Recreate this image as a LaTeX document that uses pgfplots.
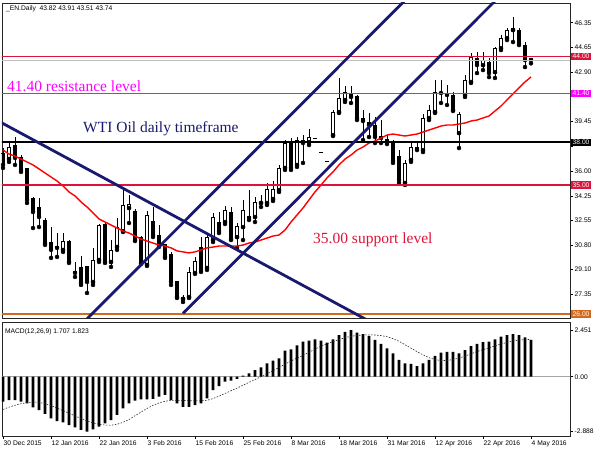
\documentclass[border=0pt]{standalone}
\usepackage{pgfplots}
\pgfplotsset{compat=1.18}
\usepackage{pgfplotstable}
\usepackage{fontspec}
\setmainfont{Liberation Serif}
\newfontfamily\uifont{Liberation Sans}
\newcommand\tf{\uifont\fontsize{6.7}{8}\selectfont}
\definecolor{crim}{RGB}{220,20,60}
\definecolor{mag}{RGB}{255,0,255}
\definecolor{choc}{RGB}{210,105,30}
\definecolor{navyl}{RGB}{25,25,112}

\pgfplotstableread{
x o h l c
1 36.83 37.94 36.62 37.66
10 30.47 31.65 30.33 31.09
15 28.23 30.61 28.02 29.77
16 29.77 32.28 29.63 32.21
18 29.63 31.16 29.28 30.47
19 30.68 32.70 30.47 32.07
20 31.79 34.80 31.72 33.61
21 33.40 34.31 32.35 33.68
24 29.42 33.19 29.35 32.91
30 27.04 27.32 26.83 27.18
31 27.18 29.28 27.11 28.93
32 28.86 29.98 28.79 29.70
34 29.21 31.65 29.07 31.37
35 31.16 33.05 31.02 32.77
37 32.42 33.54 32.28 33.26
39 31.37 32.35 30.61 32.14
40 32.07 33.96 31.16 33.26
42 32.77 34.17 32.42 33.82
43 33.75 34.31 33.47 33.82
44 33.75 35.15 33.61 34.73
45 34.03 35.29 33.89 34.73
46 34.66 36.41 34.52 36.20
47 36.20 38.15 36.06 37.94
49 36.41 38.36 36.27 38.15
51 38.01 38.92 37.80 38.36
55 38.50 40.25 38.43 40.11
56 40.11 42.49 40.04 41.09
57 40.95 41.93 40.81 41.51
67 35.15 36.76 35.01 36.55
68 36.76 38.01 36.62 37.66
70 37.45 39.97 37.31 39.69
71 39.69 40.60 39.55 40.25
72 40.11 42.35 40.04 41.51
76 38.64 40.11 37.59 39.97
77 41.30 42.69 41.16 42.35
78 42.21 44.23 42.14 43.95
80 43.39 44.30 43.04 43.74
82 42.90 44.65 42.49 44.58
83 44.58 45.49 44.44 45.28
84 45.28 45.98 45.14 45.84
85 45.84 46.75 45.00 45.98
}\whitec

\pgfplotstableread{
x o h l c
0 37.24 37.59 36.20 36.41
2 37.80 38.36 36.41 36.90
3 36.90 37.10 35.92 36.06
4 36.13 36.20 33.75 33.96
5 34.10 34.17 32.00 33.12
6 33.47 34.10 32.07 32.77
7 32.56 32.70 30.82 30.95
8 31.02 32.07 29.91 30.47
9 30.68 31.65 29.98 30.61
11 31.09 31.16 29.56 29.63
12 28.93 29.63 28.58 28.86
13 29.21 30.05 28.02 28.16
14 29.28 29.35 27.46 28.23
17 32.28 32.35 29.56 29.63
22 33.19 33.33 31.09 31.16
23 31.37 31.44 29.49 29.56
25 32.49 33.47 31.37 31.51
26 31.51 32.21 30.68 30.82
27 30.82 30.89 29.91 29.98
28 30.12 30.33 28.02 28.23
29 28.23 28.30 27.11 27.18
33 30.61 31.37 28.93 29.07
36 32.42 33.12 31.65 31.79
38 33.12 33.47 31.16 31.23
41 32.84 34.66 32.56 32.70
48 37.94 38.29 36.06 36.20
50 38.15 38.50 36.55 37.94
58 41.44 41.93 40.74 41.16
59 41.23 41.30 39.55 39.69
60 39.69 40.25 38.15 39.48
61 39.41 40.04 38.36 39.20
62 39.20 39.76 37.94 38.36
63 38.43 39.55 37.94 38.29
64 38.22 38.50 37.87 38.01
65 38.08 38.15 36.55 36.69
66 37.03 37.45 35.15 35.36
69 37.66 38.08 37.45 37.52
73 41.51 42.35 40.74 41.44
74 41.44 42.00 40.60 41.30
75 41.30 41.51 40.18 40.25
79 43.88 44.30 42.83 43.39
81 43.60 43.88 42.55 42.83
86 45.84 45.98 44.79 44.93
87 44.79 45.00 43.25 43.74
88 43.82 43.91 43.51 43.74
}\blackc

% flat bars (open = high = low = close)
\pgfplotstableread{
x y
52 38.28
53 37.30
54 36.68
}\doji

\pgfplotstableread{
x y
0 37.45
1 37.17
2 37.03
3 36.82
4 36.62
5 36.41
6 36.13
7 35.85
8 35.57
9 35.29
10 34.94
11 34.52
12 34.24
13 33.82
14 33.47
15 33.05
16 32.63
17 32.42
18 32.21
19 32.00
20 31.79
21 31.65
22 31.44
23 31.23
24 31.09
25 30.95
26 30.81
27 30.74
28 30.61
29 30.40
30 30.33
31 30.26
32 30.33
33 30.47
34 30.61
35 30.67
36 30.74
37 30.74
38 30.74
39 30.74
40 30.81
41 30.95
42 31.02
43 31.16
44 31.30
45 31.44
46 31.51
47 31.86
48 32.42
49 32.91
50 33.40
51 33.96
52 34.52
53 35.01
54 35.50
55 35.92
56 36.41
57 36.82
58 37.10
59 37.45
60 37.66
61 37.94
62 38.08
63 38.29
64 38.50
65 38.57
66 38.50
67 38.43
68 38.50
69 38.57
70 38.71
71 38.85
72 38.99
73 39.13
74 39.20
75 39.20
76 39.27
77 39.34
78 39.48
79 39.55
80 39.69
81 39.83
82 40.18
83 40.53
84 40.95
85 41.37
86 41.79
87 42.21
88 42.56
}\ma

\pgfplotstableread{
x y
0 -1.31
1 -1.23
2 -1.23
3 -1.31
4 -1.40
5 -1.61
6 -1.75
7 -1.96
8 -2.19
9 -2.33
10 -2.40
11 -2.54
12 -2.66
13 -2.80
14 -2.888
15 -2.77
16 -2.63
17 -2.45
18 -2.28
19 -2.01
20 -1.66
21 -1.40
22 -1.26
23 -1.19
24 -1.19
25 -1.17
26 -1.05
27 -0.96
28 -1.23
29 -1.40
30 -1.58
31 -1.58
32 -1.49
33 -1.40
34 -1.14
35 -0.70
36 -0.49
37 -0.26
38 -0.21
39 -0.12
40 0.05
41 0.18
42 0.35
43 0.49
44 0.70
45 0.84
46 0.96
47 1.37
48 1.44
49 1.65
50 1.84
51 1.89
52 1.96
53 1.89
54 1.79
55 1.96
56 2.19
57 2.36
58 2.451
59 2.31
60 2.24
61 2.14
62 1.93
63 1.72
64 1.49
65 1.23
66 0.88
67 0.70
68 0.67
69 0.56
70 0.70
71 0.88
72 1.09
73 1.26
74 1.31
75 1.31
76 1.23
77 1.40
78 1.61
79 1.72
80 1.82
81 1.84
82 1.96
83 2.10
84 2.19
85 2.24
86 2.19
87 2.07
88 1.93
}\macd

\pgfplotstableread{
x y
0 -1.72
1 -1.60
2 -1.50
3 -1.42
4 -1.36
5 -1.33
6 -1.35
7 -1.42
8 -1.52
9 -1.65
10 -1.78
11 -1.92
12 -2.06
13 -2.20
14 -2.33
15 -2.43
16 -2.50
17 -2.54
18 -2.55
19 -2.50
20 -2.40
21 -2.25
22 -2.05
23 -1.86
24 -1.67
25 -1.50
26 -1.38
27 -1.29
28 -1.25
29 -1.24
30 -1.25
31 -1.26
32 -1.27
33 -1.27
34 -1.24
35 -1.15
36 -1.02
37 -0.88
38 -0.74
39 -0.60
40 -0.45
41 -0.30
42 -0.15
43 0.00
44 0.15
45 0.32
46 0.48
47 0.66
48 0.82
49 0.98
50 1.12
51 1.28
52 1.45
53 1.60
54 1.73
55 1.84
56 1.95
57 2.05
58 2.12
59 2.17
60 2.19
61 2.20
62 2.19
63 2.16
64 2.10
65 2.00
66 1.86
67 1.68
68 1.50
69 1.32
70 1.15
71 1.00
72 0.90
73 0.85
74 0.85
75 0.90
76 0.98
77 1.08
78 1.20
79 1.32
80 1.42
81 1.52
82 1.62
83 1.72
84 1.80
85 1.87
86 1.92
87 1.95
88 1.96
}\sig

\begin{document}
\begin{tikzpicture}
\useasboundingbox (0pt,0pt) rectangle (600pt,450pt);
\begin{axis}[
  at={(2pt,132pt)}, anchor=south west,
  width=568pt, height=315pt, scale only axis,
  xmin=-0.17, xmax=94.5, ymin=25.71, ymax=47.73,
  axis line style={black!85, line width=0.7pt},
  xtick=\empty,
  ytick={27.35,29.10,30.80,32.55,34.25,36.00,37.70,39.45,41.20,42.90,44.65,46.35},
  yticklabels={27.35,29.10,30.80,32.55,34.25,36.00,,39.45,,42.90,44.65,46.35},
  ytick pos=right, yticklabel pos=right,
  tick align=outside, major tick length=3pt,
  tick style={black, line width=0.5pt},
  yticklabel style={font=\tf, anchor=west, inner sep=0pt, xshift=1.5pt},
  clip mode=individual,
]
% wicks
\addplot[only marks, mark=none, error bars/.cd, y dir=plus, y explicit, error mark=none,
  error bar style={black, line width=0.8pt}]
  table[x=x, y=l, y error plus expr=\thisrow{h}-\thisrow{l}] {\whitec};
\addplot[only marks, mark=none, error bars/.cd, y dir=plus, y explicit, error mark=none,
  error bar style={black, line width=0.8pt}]
  table[x=x, y=l, y error plus expr=\thisrow{h}-\thisrow{l}] {\blackc};
% black bodies
\addplot[only marks, mark=none, error bars/.cd, y dir=plus, y explicit, error mark=none,
  error bar style={black, line width=4pt}]
  table[x=x, y=c, y error plus expr=\thisrow{o}-\thisrow{c}] {\blackc};
\addplot[only marks, mark=-, mark size=2pt, black, mark options={line width=0.9pt, line cap=butt}] table[x=x, y=o] {\blackc};
\addplot[only marks, mark=-, mark size=2pt, black, mark options={line width=0.8pt, line cap=butt}] table[x=x, y=y] {\doji};
% white bodies
\addplot[only marks, mark=none, error bars/.cd, y dir=plus, y explicit, error mark=none,
  error bar style={black, line width=4.4pt}]
  table[x=x, y=o, y error plus expr=\thisrow{c}-\thisrow{o}] {\whitec};
\addplot[only marks, mark=none, error bars/.cd, y dir=plus, y explicit, error mark=none,
  error bar style={white, line width=2.8pt}]
  table[x=x, y=o, y error plus expr=\thisrow{c}-\thisrow{o}] {\whitec};
\addplot[only marks, mark=-, mark size=2.2pt, black, mark options={line width=0.8pt, line cap=butt}] table[x=x, y=o] {\whitec};
\addplot[only marks, mark=-, mark size=2.2pt, black, mark options={line width=0.8pt, line cap=butt}] table[x=x, y=c] {\whitec};
% moving average
\addplot[red, line width=1.4pt] table {\ma};
% levels
\addplot[gray!50, line width=0.6pt] coordinates {(-1,43.74) (95,43.74)};
\addplot[crim, line width=1.5pt] coordinates {(-1,44) (95,44)};
\addplot[mag, line width=1.8pt] coordinates {(-1,41.40) (95,41.40)};
\addplot[black, line width=1.8pt] coordinates {(-1,38) (95,38)};
\addplot[crim, line width=1.5pt] coordinates {(-1,35) (95,35)};
\addplot[choc, line width=1.8pt] coordinates {(-1,26) (95,26)};
% trend lines
\addplot[navyl, line width=2.8pt] coordinates {(14,25.65) (68,48.33)};
\addplot[navyl, line width=2.8pt] coordinates {(30,26.03) (82,47.87)};
\addplot[navyl, line width=2.8pt] coordinates {(-1,39.53) (62,25.27)};
% texts
\node[anchor=base west, inner sep=0pt, text=mag, font=\fontsize{15.5}{17}\selectfont] at (axis cs:0.67,41.57) {41.40 resistance level};
\node[anchor=base west, inner sep=0pt, text=navyl, font=\fontsize{15.5}{17}\selectfont] at (axis cs:13.33,38.71) {WTI Oil daily timeframe};
\node[anchor=base west, inner sep=0pt, text=crim, font=\fontsize{15.5}{17}\selectfont] at (axis cs:51.67,30.89) {35.00 support level};
\node[anchor=base west, inner sep=0pt, font=\tf] at (rel axis cs:0.007,0.976) {\_EN.Daily\ \ 43.82 43.91 43.51 43.74};
% right labels
\node[anchor=west, fill=crim, text=white, font=\tf, inner xsep=1.5pt, inner ysep=1.3pt, xshift=1pt] at (axis cs:94.5,44) {44.00};
\node[anchor=west, fill=mag, text=white, font=\tf, inner xsep=1.5pt, inner ysep=1.3pt, xshift=1pt] at (axis cs:94.5,41.40) {41.40};
\node[anchor=west, fill=black, text=white, font=\tf, inner xsep=1.5pt, inner ysep=1.3pt, xshift=1pt] at (axis cs:94.5,38) {38.00};
\node[anchor=west, fill=crim, text=white, font=\tf, inner xsep=1.5pt, inner ysep=1.3pt, xshift=1pt] at (axis cs:94.5,35) {35.00};
\node[anchor=west, fill=choc, text=white, font=\tf, inner xsep=1.5pt, inner ysep=1.3pt, xshift=1pt] at (axis cs:94.5,26) {26.00};
\end{axis}

\begin{axis}[
  at={(2pt,14pt)}, anchor=south west,
  width=568pt, height=114pt, scale only axis,
  xmin=-0.17, xmax=94.5, ymin=-3.116, ymax=2.874,
  axis line style={black!85, line width=0.7pt},
  xtick={0,8,...,88},
  xticklabels={30 Dec 2015,12 Jan 2016,22 Jan 2016,3 Feb 2016,15 Feb 2016,25 Feb 2016,8 Mar 2016,18 Mar 2016,31 Mar 2016,12 Apr 2016,22 Apr 2016,4 May 2016},
  xtick pos=bottom, ytick pos=right, yticklabel pos=right,
  ytick={-2.888,0,2.451}, yticklabels={-2.888,0.00,2.451},
  tick align=outside, major tick length=3pt,
  tick style={black, line width=0.5pt},
  xticklabel style={font=\tf, anchor=north west, inner sep=0pt, xshift=0.5pt, yshift=-1.5pt},
  yticklabel style={font=\tf, anchor=west, inner sep=0pt, xshift=1.5pt},
  clip mode=individual,
]
\addplot[gray!70, line width=0.6pt] coordinates {(-1,0) (95,0)};
\addplot[ybar, bar width=2.8pt, fill=black, draw=none] table {\macd};
\addplot[black!85, line width=0.6pt, dash pattern=on 1.5pt off 1.5pt] table {\sig};
\node[anchor=base west, inner sep=0pt, font=\tf] at (rel axis cs:0.005,0.895) {MACD(12,26,9) 1.707 1.823};
\end{axis}
\end{tikzpicture}
\end{document}
